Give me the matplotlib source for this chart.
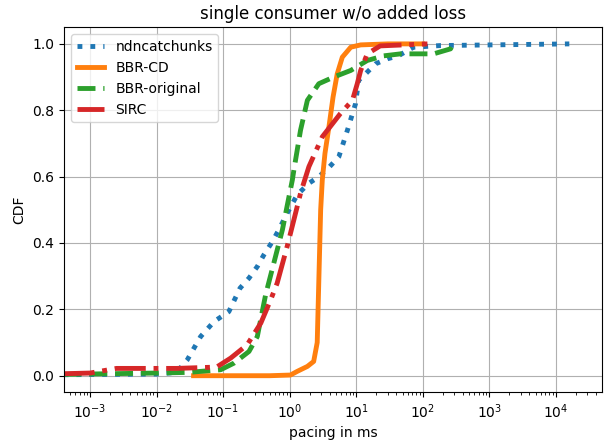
import numpy as np
import matplotlib
matplotlib.use('Agg')
import matplotlib.pyplot as plt

# values (pacing in ms, CDF)
ndn_x = [4e-4, 0.002, 0.01, 0.02, 0.029, 0.046, 0.073, 0.122, 0.18, 0.245, 0.327, 0.41, 0.55, 0.69,
         0.92, 1.3, 1.95, 2.76, 4.0, 5.5, 7.4, 9.8, 10.9, 13.9, 19.6, 29.5, 43, 73, 186, 1.6e4]
ndn_y = [0.003, 0.004, 0.005, 0.01, 0.048, 0.118, 0.163, 0.193, 0.264, 0.294, 0.329, 0.364, 0.404, 0.44,
         0.49, 0.545, 0.58, 0.60, 0.63, 0.66, 0.74, 0.82, 0.89, 0.91, 0.94, 0.955, 0.964, 0.99, 0.995, 1.0]

cd_x = [0.036, 0.5, 1.03, 1.3, 1.85, 2.3, 2.6, 2.76, 2.93, 3.1, 3.4, 3.9, 4.5, 5.2, 6.2, 8.3, 11.7, 30, 100]
cd_y = [0.0, 0.0, 0.002, 0.013, 0.028, 0.043, 0.1, 0.3, 0.5, 0.59, 0.67, 0.75, 0.84, 0.91, 0.96, 0.99, 0.997, 1.0, 1.0]

bbr_x = [4e-4, 0.002, 0.01, 0.03, 0.092, 0.146, 0.245, 0.327, 0.436, 0.58, 0.78, 0.98, 1.1, 1.16, 1.46,
         1.85, 2.75, 4.6, 8.3, 14.7, 26, 46.6, 146, 262, 290]
bbr_y = [0.004, 0.006, 0.008, 0.01, 0.018, 0.038, 0.073, 0.118, 0.244, 0.34, 0.44, 0.54, 0.59, 0.62, 0.74,
         0.83, 0.88, 0.90, 0.92, 0.95, 0.964, 0.97, 0.97, 0.985, 1.0]

sirc_x = [4e-4, 0.001, 0.0025, 0.02, 0.08, 0.13, 0.23, 0.37, 0.52, 0.65, 0.92, 1.16, 1.46, 1.95,
          3.1, 5.8, 8.8, 10.4, 11.7, 14.7, 23, 118]
sirc_y = [0.006, 0.008, 0.022, 0.022, 0.026, 0.053, 0.093, 0.159, 0.229, 0.279, 0.39, 0.47, 0.55, 0.63,
          0.72, 0.79, 0.83, 0.88, 0.92, 0.97, 0.994, 1.0]

fig = plt.figure(figsize=(6.1, 4.43), dpi=100)
ax = fig.add_axes([64/610, 1 - 392.3/443, (601.7 - 64)/610, (392.3 - 27.3)/443])

ax.plot(ndn_x, ndn_y, ':', lw=3.5, color='tab:blue', label='ndncatchunks')
ax.plot(cd_x, cd_y, '-', lw=3.5, color='tab:orange', label='BBR-CD')
ax.plot(bbr_x, bbr_y, '--', lw=3.5, color='tab:green', label='BBR-original')
ax.plot(sirc_x, sirc_y, '-.', lw=3.5, color='tab:red', label='SIRC')

ax.set_xscale('log')
ax.set_xticks([10.0**k for k in range(-3, 5)])
ax.set_xlim(10**-3.391, 10**4.691)
ax.set_ylim(-0.05, 1.05)
ax.grid(True)
ax.set_xlabel('pacing in ms')
ax.set_ylabel('CDF')
ax.set_title('single consumer w/o added loss')
ax.legend(loc='upper left')

fig.savefig('out.png', dpi=100)
